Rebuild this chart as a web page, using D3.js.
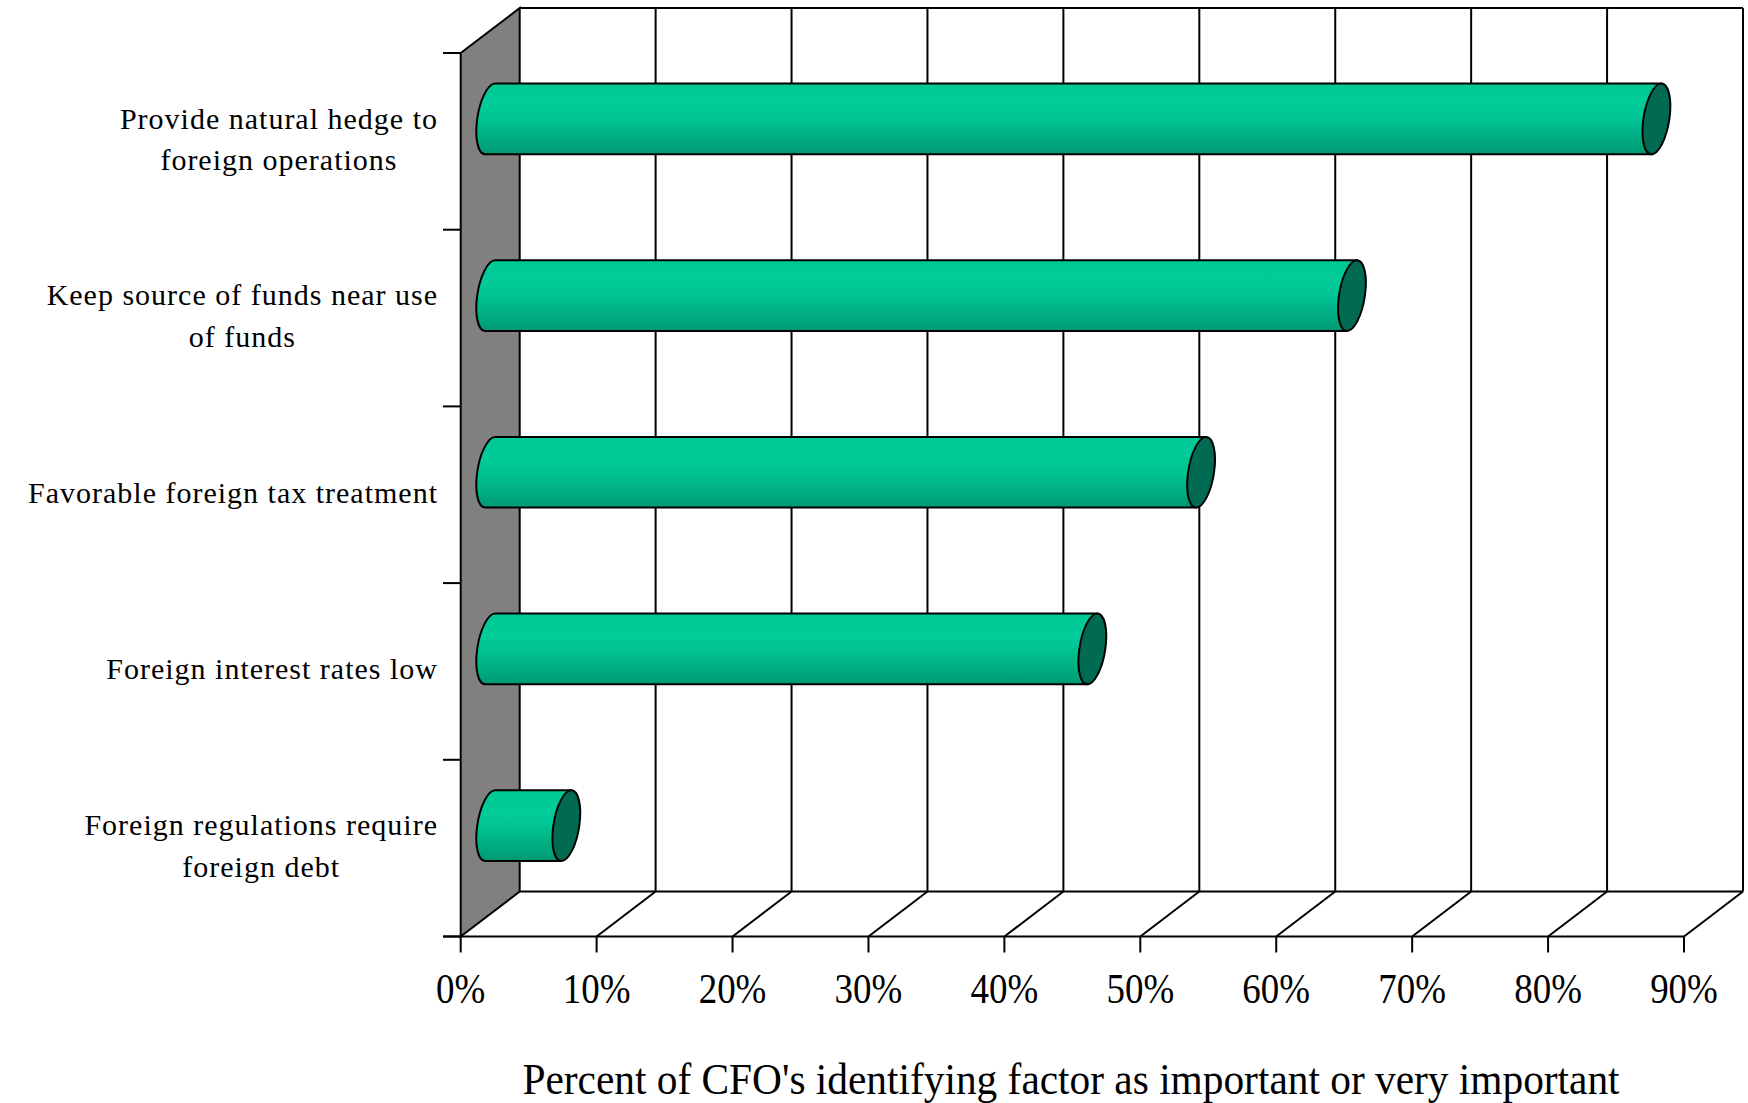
<!DOCTYPE html>
<html><head><meta charset="utf-8">
<script src="https://cdn.jsdelivr.net/npm/d3@7"></script>
<style>html,body{margin:0;padding:0;background:#fff;} svg{display:block;}</style>
</head><body>
<svg id="chart" width="1748" height="1103"></svg>
<script>
// Reasons CFOs give for issuing foreign debt
const categories = [
  "Provide natural hedge to\nforeign operations",
  "Keep source of funds near use\nof funds",
  "Favorable foreign tax treatment",
  "Foreign interest rates low",
  "Foreign regulations require\nforeign debt"
];
const values = [85.8, 63.4, 52.3, 44.3, 5.6];
const tickValues = [0, 10, 20, 30, 40, 50, 60, 70, 80, 90];
const tickLabels = tickValues.map(v => v + "%");
const axisTitle = "Percent of CFO's identifying factor as important or very important";

const svg = d3.select("#chart");
svg.append("rect").attr("width", 1748).attr("height", 1103).attr("fill", "#fff");

// front face of the 3-D box and the depth offset to the back wall
const front = { left: 460.7, right: 1684, top: 53, bottom: 936.5 };
const depth = { dx: 59, dy: -45 };
const serif = "'Liberation Serif','Times New Roman',serif";

const x = d3.scaleLinear().domain([0, 90]).range([front.left, front.right]);
const y = d3.scaleBand().domain(d3.range(categories.length)).range([front.top, front.bottom]);
const xb = v => x(v) + depth.dx;
const xm = v => x(v) + depth.dx / 2;
const backTop = front.top + depth.dy, backBottom = front.bottom + depth.dy;

const defs = svg.append("defs");
const grad = defs.append("linearGradient").attr("id", "barFill")
  .attr("x1", 0).attr("y1", 0).attr("x2", 0).attr("y2", 1);
[[0, "#00C896"], [0.3, "#00CC99"], [0.5, "#00C493"], [0.7, "#00B387"], [0.88, "#00A47C"], [1, "#009873"]]
  .forEach(([o, c]) => grad.append("stop").attr("offset", o).attr("stop-color", c));

const frame = svg.append("g").attr("stroke", "#000").attr("stroke-width", 2).attr("fill", "none");

// back wall gridlines
frame.selectAll("line.grid").data(tickValues.slice(1)).join("line")
  .attr("x1", d => xb(d)).attr("x2", d => xb(d))
  .attr("y1", backTop).attr("y2", backBottom);
// top edge of back wall
frame.append("line").attr("x1", xb(0)).attr("x2", xb(90)).attr("y1", backTop).attr("y2", backTop);
// floor: back edge, front edge and depth lines
frame.append("line").attr("x1", xb(0)).attr("x2", xb(90)).attr("y1", backBottom).attr("y2", backBottom);
frame.append("line").attr("x1", 443).attr("x2", x(90)).attr("y1", front.bottom).attr("y2", front.bottom);
frame.selectAll("line.depth").data(tickValues.slice(1)).join("line")
  .attr("x1", d => x(d)).attr("x2", d => xb(d))
  .attr("y1", front.bottom).attr("y2", backBottom);

// left side wall
svg.append("path")
  .attr("d", `M${x(0)},${front.top}L${xb(0)},${backTop}L${xb(0)},${backBottom}L${x(0)},${front.bottom}Z`)
  .attr("fill", "#808080").attr("stroke", "#000").attr("stroke-width", 2);

// category ticks
const bounds = categories.map((d, i) => y(i)).concat([front.bottom]);
frame.selectAll("line.ytick").data(bounds).join("line")
  .attr("x1", 443).attr("x2", x(0)).attr("y1", d => d).attr("y2", d => d);
// value ticks
frame.selectAll("line.xtick").data(tickValues).join("line")
  .attr("x1", d => x(d)).attr("x2", d => x(d))
  .attr("y1", front.bottom).attr("y2", front.bottom + 16);

// cylinders
const bh = y.bandwidth() * 0.4, h = bh / 2, rx = 13;
const bars = svg.selectAll("g.bar").data(values).join("g")
  .attr("transform", (d, i) => `translate(0,${y(i) + y.bandwidth() / 2 + depth.dy / 2}) skewX(-8)`);
bars.append("path")
  .attr("d", d => `M${xm(0)},${-h}L${xm(d)},${-h}L${xm(d)},${h}L${xm(0)},${h}A${rx},${h} 0 0 1 ${xm(0)},${-h}Z`)
  .attr("fill", "url(#barFill)").attr("stroke", "#000").attr("stroke-width", 2);
bars.append("ellipse")
  .attr("cx", d => xm(d)).attr("cy", 0).attr("rx", rx).attr("ry", h)
  .attr("fill", "#006B52").attr("stroke", "#000").attr("stroke-width", 2);

// category labels, each block right-aligned, lines centred within it
const labelRight = 438, lineGap = 41.7;
categories.forEach((c, i) => {
  const lines = c.split("\n");
  const cy = y(i) + y.bandwidth() / 2;
  const g = svg.append("g").attr("font-family", serif).attr("font-size", 30)
    .attr("letter-spacing", "1px").attr("fill", "#000");
  const texts = lines.map((t, k) => g.append("text")
    .attr("y", cy + 8 + (k - (lines.length - 1) / 2) * lineGap)
    .attr("text-anchor", "middle").text(t));
  const maxW = d3.max(texts, t => t.node().getComputedTextLength());
  texts.forEach(t => t.attr("x", labelRight - maxW / 2));
});

// value tick labels
svg.selectAll("text.tl").data(tickValues).join("text")
  .attr("transform", d => `translate(${x(d)},1002.7) scale(0.88,1)`)
  .attr("text-anchor", "middle").attr("font-family", serif).attr("font-size", 42)
  .text((d, i) => tickLabels[i]);

// axis title
svg.append("text")
  .attr("transform", "translate(1071,1094) scale(0.94,1)")
  .attr("text-anchor", "middle").attr("font-family", serif).attr("font-size", 44)
  .text(axisTitle);
</script>
</body></html>
